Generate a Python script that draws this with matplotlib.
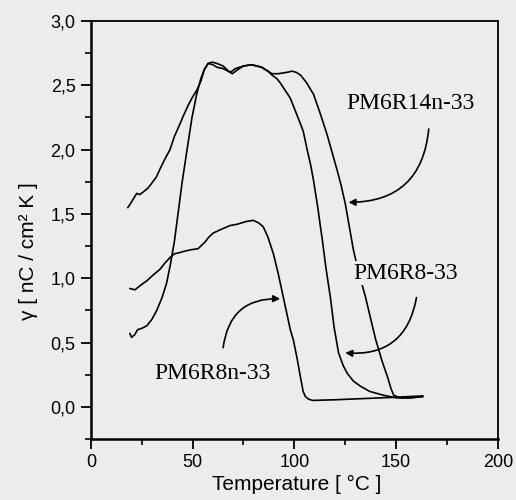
import matplotlib
matplotlib.use("Agg")
import matplotlib.pyplot as plt
from matplotlib.ticker import MultipleLocator, FuncFormatter

# PM6R14n-33 (falls last)
a_x = [18.2, 19.5, 21, 22.6, 24, 25.7, 28, 30, 32.3, 34, 36.5, 38.9, 41, 43.8, 45.4, 48, 50, 52, 54,
       55.7, 57.6, 59.6, 62, 65, 67, 69.5, 72, 75, 79, 84, 87, 89, 92, 96, 99, 101, 103, 106, 109.4,
       112.5, 116, 118.5, 121, 123, 125, 127, 129, 131.5, 135, 136.5, 138, 140, 143, 145.8, 147.5,
       148.8, 152, 157, 163]
a_y = [1.55, 1.58, 1.62, 1.66, 1.65, 1.67, 1.70, 1.74, 1.79, 1.85, 1.93, 2.00, 2.10, 2.20, 2.26, 2.35,
       2.41, 2.46, 2.53, 2.62, 2.67, 2.68, 2.67, 2.65, 2.62, 2.59, 2.62, 2.65, 2.66, 2.64, 2.61, 2.59,
       2.59, 2.60, 2.61, 2.60, 2.58, 2.52, 2.43, 2.29, 2.12, 1.98, 1.84, 1.72, 1.58, 1.40, 1.22, 1.05,
       0.85, 0.75, 0.65, 0.52, 0.36, 0.23, 0.14, 0.09, 0.07, 0.07, 0.08]

# PM6R8-33 (middle)
b_x = [19.2, 20, 21.5, 23, 25, 27.5, 30, 32.4, 35, 37.2, 39, 41, 43, 44.8, 47, 49.7, 52, 54, 55.7,
       57.6, 60, 62, 65, 68.5, 71, 75, 79, 84, 87, 89, 91.5, 93, 95.5, 98, 100.5, 103, 104.4, 106.4,
       108, 109.4, 111.5, 112.8, 113.8, 115.5, 117.7, 119.5, 121.7, 124, 126, 129, 132.5, 137, 143.8,
       150, 157, 163]
b_y = [0.57, 0.54, 0.56, 0.60, 0.61, 0.63, 0.68, 0.75, 0.85, 0.96, 1.10, 1.28, 1.52, 1.74, 1.97, 2.25,
       2.43, 2.55, 2.62, 2.67, 2.66, 2.64, 2.63, 2.60, 2.63, 2.65, 2.66, 2.64, 2.61, 2.58, 2.55, 2.52,
       2.46, 2.40, 2.30, 2.20, 2.14, 1.99, 1.88, 1.76, 1.55, 1.40, 1.29, 1.08, 0.85, 0.62, 0.42, 0.32,
       0.26, 0.20, 0.16, 0.12, 0.09, 0.07, 0.07, 0.08]

# PM6R8n-33 (low curve)
c_x = [19.2, 21.7, 24, 27.5, 31, 34, 36.5, 38.9, 41, 43.8, 46, 48.8, 52.7, 56, 58, 60, 64, 68.5, 72,
       76, 79.8, 82.5, 84.7, 87, 89.7, 92, 94.6, 96.5, 98, 99.5, 101.3, 103, 104.3, 105.4, 107, 109,
       120, 135, 150, 163]
c_y = [0.92, 0.91, 0.94, 0.98, 1.03, 1.07, 1.12, 1.16, 1.19, 1.20, 1.21, 1.22, 1.23, 1.28, 1.32, 1.35,
       1.38, 1.41, 1.42, 1.44, 1.45, 1.43, 1.40, 1.32, 1.19, 1.04, 0.85, 0.71, 0.60, 0.52, 0.38, 0.23,
       0.12, 0.08, 0.06, 0.05, 0.055, 0.065, 0.075, 0.085]

bg = '#ececec'
sans = ['Liberation Sans', 'DejaVu Sans']
serif = ['Liberation Serif', 'DejaVu Serif']

fig = plt.figure(figsize=(5.16, 5.0), dpi=100, facecolor=bg)
ax = fig.add_axes([0.176, 0.122, 0.789, 0.836], facecolor=bg)

for xs, ys in [(a_x, a_y), (b_x, b_y), (c_x, c_y)]:
    ax.plot(xs, ys, color='black', lw=1.2)

ax.set_xlim(0, 200)
ax.set_ylim(-0.25, 3.0)
ax.xaxis.set_major_locator(MultipleLocator(50))
ax.xaxis.set_minor_locator(MultipleLocator(25))
ax.yaxis.set_major_locator(MultipleLocator(0.5))
ax.yaxis.set_minor_locator(MultipleLocator(0.25))
ax.yaxis.set_major_formatter(FuncFormatter(lambda v, p: f"{v:.1f}".replace('.', ',')))
ax.tick_params(which='major', direction='out', length=7, width=1.3, pad=4, labelsize=13)
ax.tick_params(which='minor', direction='out', length=4, width=1.2)
ax.tick_params(top=False, right=False)
for lab in ax.get_xticklabels() + ax.get_yticklabels():
    lab.set_family(sans)
for s in ax.spines.values():
    s.set_linewidth(1.3)
ax.spines['left'].set_linewidth(1.8)
ax.spines['bottom'].set_linewidth(1.8)

ax.set_xlabel('Temperature [ °C ]', family=sans, fontsize=15)
ax.set_ylabel('γ [ nC / cm² K ]', family=sans, fontsize=15)
ax.xaxis.set_label_coords(0.505, -0.085)
ax.yaxis.set_label_coords(-0.13, 0.45)

# labels and curved arrows
tbox = dict(facecolor=bg, edgecolor='none', pad=1)
ax.text(157, 2.36, 'PM6R14n-33', family=serif, fontsize=17, ha='center', va='center', bbox=tbox)
ax.text(154.7, 1.04, 'PM6R8-33', family=serif, fontsize=17, ha='center', va='center', bbox=tbox)
ax.text(59.6, 0.26, 'PM6R8n-33', family=serif, fontsize=17, ha='center', va='center', bbox=tbox)

arrow = dict(arrowstyle='-|>', color='black', lw=1.2, shrinkA=0, shrinkB=0, mutation_scale=10)
ax.annotate('', xy=(126.6, 1.59), xytext=(166, 2.16),
            arrowprops=dict(arrow, connectionstyle='arc3,rad=-0.45'))
ax.annotate('', xy=(125, 0.42), xytext=(160, 0.85),
            arrowprops=dict(arrow, connectionstyle='arc3,rad=-0.45'))
ax.annotate('', xy=(93, 0.84), xytext=(65, 0.46),
            arrowprops=dict(arrow, connectionstyle='arc3,rad=-0.45'))

fig.savefig('out.png', dpi=100, facecolor=bg)
